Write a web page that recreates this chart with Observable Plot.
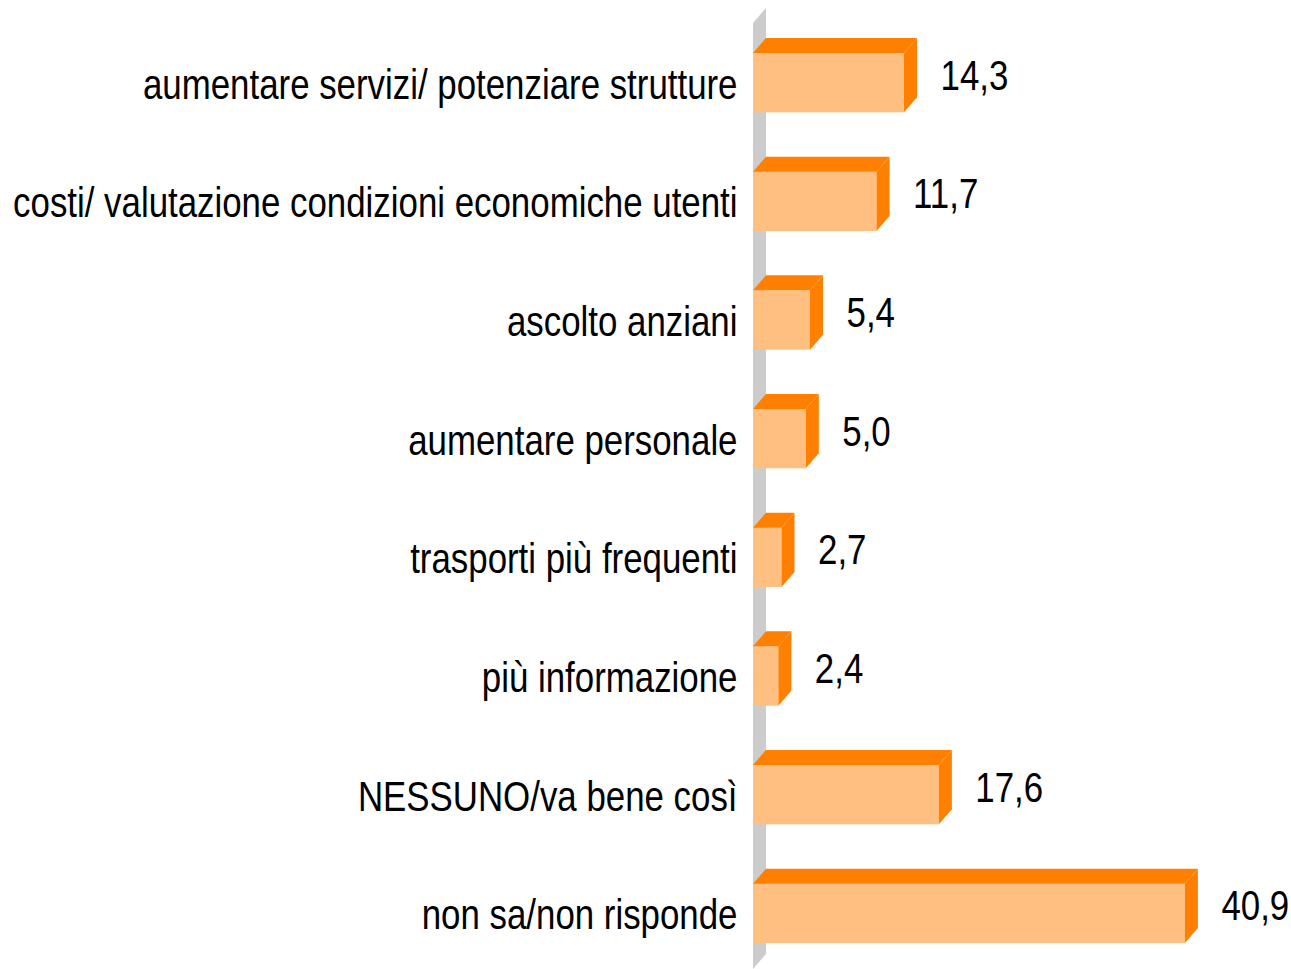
<!DOCTYPE html>
<html>
<head>
<meta charset="utf-8">
<script src="https://cdn.jsdelivr.net/npm/d3@7"></script>
<script src="https://cdn.jsdelivr.net/npm/@observablehq/plot@0.6"></script>
<style>
  html, body { margin: 0; padding: 0; background: #fff; }
  #chart svg { display: block; }
</style>
</head>
<body>
<div id="chart"></div>
<script>
const categories = [
  "aumentare servizi/ potenziare strutture",
  "costi/ valutazione condizioni economiche utenti",
  "ascolto anziani",
  "aumentare personale",
  "trasporti più frequenti",
  "più informazione",
  "NESSUNO/va bene così",
  "non sa/non risponde"
];
const values = [14.3, 11.7, 5.4, 5.0, 2.7, 2.4, 17.6, 40.9];

const data = categories.map((c, i) => ({label: c, value: values[i]}));

const DX = 13, DY = 15;
const FRONT = "#FFBF80", DARK = "#FF8000", WALL = "#CCCCCC";
const FONT = "'Liberation Sans', Arial, sans-serif";
const NARROW = 0.83;
const fmt = v => v.toFixed(1).replace(".", ",");

function bars3d(index, scales, values, dims, context, next) {
  const g = next(index, scales, values, dims, context);
  const sel = d3.select(g);
  const rects = sel.selectAll("rect").nodes();
  for (const r of rects) {
    const x1 = +r.getAttribute("x"), w = +r.getAttribute("width");
    const y1 = +r.getAttribute("y"), h = +r.getAttribute("height");
    const x2 = x1 + w, y2 = y1 + h;
    sel.append("polygon")
      .attr("points", [[x1, y1], [x1 + DX, y1 - DY], [x2 + DX, y1 - DY], [x2, y1]].join(" "))
      .attr("fill", DARK);
    sel.append("polygon")
      .attr("points", [[x2, y1], [x2 + DX, y1 - DY], [x2 + DX, y2 - DY], [x2, y2]].join(" "))
      .attr("fill", DARK);
  }
  return g;
}

function wall(index, scales, values, dims, context, next) {
  const g = document.createElementNS("http://www.w3.org/2000/svg", "g");
  const x0 = scales.x(0);
  d3.select(g).append("polygon")
    .attr("points", [[x0, 23], [x0 + DX, 8], [x0 + DX, dims.height - 15], [x0, dims.height]].join(" "))
    .attr("fill", WALL);
  return g;
}

function narrow(index, scales, values, dims, context, next) {
  const g = next(index, scales, values, dims, context);
  d3.select(g).selectAll("text").each(function() {
    const t = this.getAttribute("transform") || "";
    this.setAttribute("transform", (t + " scale(" + NARROW + ",1)").trim());
  });
  return g;
}

const chart = Plot.plot({
  width: 1291,
  height: 969,
  marginLeft: 753,
  marginRight: 10,
  marginTop: 0,
  marginBottom: 0,
  style: {fontFamily: FONT, background: "#fff"},
  x: {domain: [0, 50], axis: null},
  y: {type: "band", domain: categories, range: [53, 943], paddingInner: 0.5, paddingOuter: 0, round: false, axis: null},
  marks: [
    Plot.frame({stroke: "none", fill: "none", render: wall}),
    Plot.barX(data, {x: "value", y: "label", fill: FRONT, render: bars3d}),
    Plot.text(data, {x: 0, y: "label", text: "label", textAnchor: "end", dx: -16, dy: 2, fontSize: 42, fill: "#000", render: narrow}),
    Plot.text(data, {x: "value", y: "label", text: d => fmt(d.value), textAnchor: "start", dx: 36, dy: -7, fontSize: 42, fill: "#000", render: narrow})
  ]
});

document.getElementById("chart").appendChild(chart);
</script>
</body>
</html>
